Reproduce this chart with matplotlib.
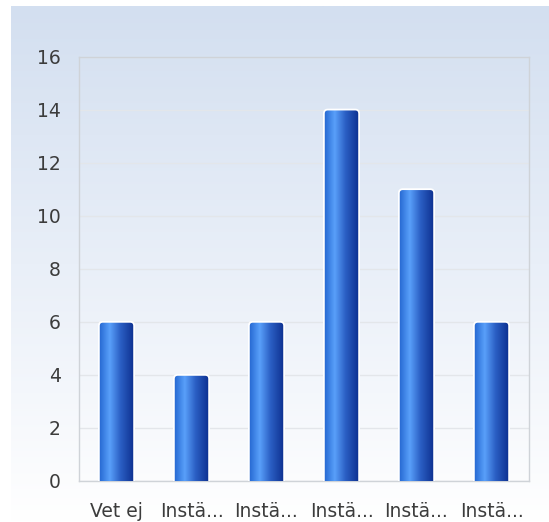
import matplotlib
matplotlib.use("Agg")
import matplotlib.pyplot as plt
import numpy as np
from matplotlib.colors import LinearSegmentedColormap
from matplotlib.patches import FancyBboxPatch

categories = ["Vet ej", "Instä...", "Instä...", "Instä...", "Instä...", "Instä..."]
values = [6, 4, 6, 14, 11, 6]
yticks = [0, 2, 4, 6, 8, 10, 12, 14, 16]

fig = plt.figure(figsize=(5.49, 5.22), dpi=100)
fig.patch.set_facecolor("white")

# background gradient panel
bg = fig.add_axes([11 / 549, 0, 1 - 11 / 549, 1 - 6 / 522])
bg.axis("off")
bg_cmap = LinearSegmentedColormap.from_list("bg", ["#ffffff", "#e9eff8", "#d3dff0"])
grad = np.linspace(0, 1, 256).reshape(-1, 1)
bg.imshow(grad, cmap=bg_cmap, aspect="auto", origin="lower", extent=[0, 1, 0, 1])
bg.set_xlim(0, 1)
bg.set_ylim(0, 1)

ax = fig.add_axes([79 / 549, 41 / 522, 450 / 549, 424.5 / 522])
ax.patch.set_alpha(0)

bar_cmap = LinearSegmentedColormap.from_list(
    "bar", [(0, "#2466d0"), (0.3, "#59a0fa"), (0.6, "#2b5fc4"), (1, "#0b2d8c")])
hgrad = np.linspace(0, 1, 256).reshape(1, -1)

x = np.arange(len(categories))
bw = 0.47
ax.set_xlim(-0.5, len(categories) - 0.5)
ax.set_ylim(0, 16)
# data units per pixel, for round corners
xpp = len(categories) / 450
ypp = 16 / 424.5
for xi, v in zip(x, values):
    x0 = xi - bw / 2
    patch = FancyBboxPatch((x0, -0.5), bw, v + 0.5,
                           boxstyle="round,pad=0,rounding_size=%f" % (4 * xpp),
                           mutation_aspect=ypp / xpp,
                           facecolor="none", edgecolor="white", linewidth=1.3,
                           zorder=4)
    ax.add_patch(patch)
    im = ax.imshow(hgrad, cmap=bar_cmap, aspect="auto",
                   extent=[x0, x0 + bw, 0, v], zorder=3.5)
    im.set_clip_path(patch)

ax.set_yticks(yticks)
ax.set_xticks(x)
ax.set_xticklabels(categories)
ax.grid(axis="y", color="#e3e6ea", linewidth=1, zorder=0)
ax.set_axisbelow(True)
for s in ax.spines.values():
    s.set_color("#cfd3d8")
    s.set_linewidth(1)
ax.tick_params(axis="both", length=0, labelsize=13.5, colors="#3c3c3c")
ax.tick_params(axis="x", pad=15)
ax.tick_params(axis="y", pad=13)

fig.savefig("out.png", dpi=100)
